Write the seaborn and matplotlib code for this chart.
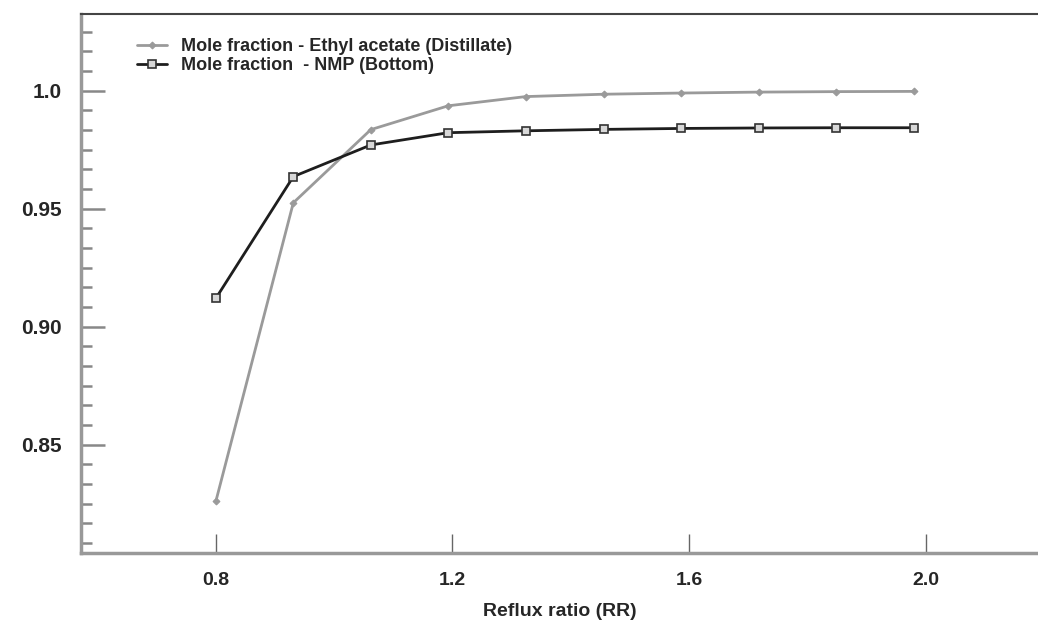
import numpy as np
import pandas as pd
import matplotlib
matplotlib.use("Agg")
import matplotlib.pyplot as plt
import seaborn as sns
from matplotlib.ticker import AutoMinorLocator, FixedLocator

# reflux ratio values
reflux = [0.80, 0.931, 1.062, 1.193, 1.324, 1.456, 1.587, 1.718, 1.849, 1.98]
ethyl_acetate = [0.826, 0.9525, 0.9835, 0.9936, 0.9975, 0.9985, 0.999, 0.9994, 0.9996, 0.9997]
nmp = [0.912, 0.9636, 0.977, 0.9822, 0.983, 0.9836, 0.984, 0.9842, 0.9843, 0.9843]

label_ea = "Mole fraction - Ethyl acetate (Distillate)"
label_nmp = "Mole fraction  - NMP (Bottom)"

sns.set_style("ticks")
plt.rcParams["font.family"] = ["Liberation Sans", "DejaVu Sans"]

df = pd.DataFrame({"RR": reflux, "ea": ethyl_acetate, "nmp": nmp})

fig = plt.figure(figsize=(10.38, 6.24), dpi=100)
ax = fig.add_axes([0.078, 0.114, 0.922, 0.864])

sns.lineplot(data=df, x="RR", y="ea", ax=ax, color="#9a9a9a", linewidth=2.0,
             marker="D", markersize=3.5, markeredgecolor="#9a9a9a", label=label_ea)
sns.lineplot(data=df, x="RR", y="nmp", ax=ax, color="#1e1e1e", linewidth=2.0,
             marker="s", markersize=5.5, markerfacecolor="#d8d8d8",
             markeredgecolor="#333333", markeredgewidth=1.2, label=label_nmp)

ax.set_xlim(0.572, 2.19)
ax.set_ylim(0.8042, 1.0326)

ax.xaxis.set_major_locator(FixedLocator([0.8, 1.2, 1.6, 2.0]))
ax.yaxis.set_major_locator(FixedLocator([0.85, 0.90, 0.95, 1.0]))
ax.yaxis.set_minor_locator(AutoMinorLocator(6))
ax.set_yticklabels(["0.85", "0.90", "0.95", "1.0"], fontweight="bold", fontsize=15)
ax.set_xticklabels(["0.8", "1.2", "1.6", "2.0"], fontweight="bold", fontsize=14)

ax.tick_params(axis="y", which="major", direction="in", length=17, width=1.8,
               color="#888888", pad=14)
ax.tick_params(axis="y", which="minor", direction="in", length=8, width=1.8,
               color="#888888")
ax.tick_params(axis="x", which="major", direction="in", length=14, width=1.0,
               color="#666666", pad=14)

for side in ["left", "bottom"]:
    ax.spines[side].set_color("#999999")
    ax.spines[side].set_linewidth(2.5)
ax.spines["top"].set_color("#444444")
ax.spines["top"].set_linewidth(1.5)
ax.spines["right"].set_visible(False)

ax.set_xlabel("Reflux ratio (RR)", fontweight="bold", fontsize=14, labelpad=10)
ax.set_ylabel("")

leg = ax.legend(loc="upper left", bbox_to_anchor=(137 / 1038, 1 - 38 / 624),
                bbox_transform=fig.transFigure, frameon=False,
                prop={"weight": "bold", "size": 13}, handlelength=1.65,
                handletextpad=0.8, labelspacing=0.12, borderpad=0,
                borderaxespad=0)

fig.savefig("out.png", dpi=100)
